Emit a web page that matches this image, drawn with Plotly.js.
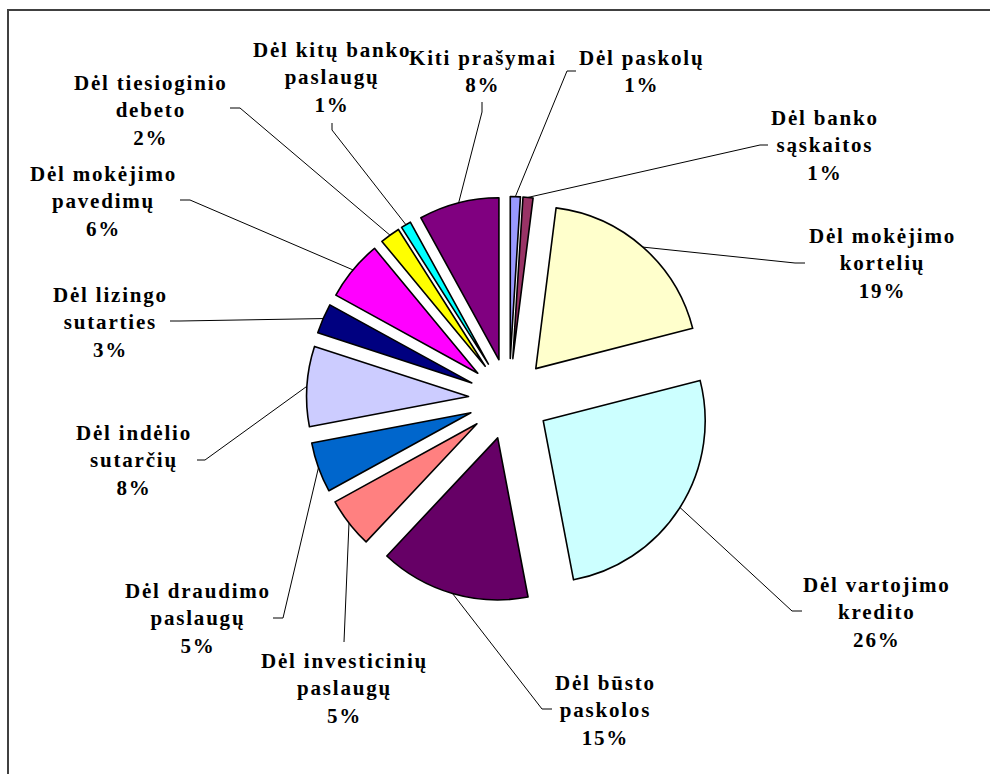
<!DOCTYPE html>
<html>
<head>
<meta charset="utf-8">
<script src="https://cdn.plot.ly/plotly-3.0.1.min.js"></script>
<style>
html, body { margin: 0; padding: 0; background: #ffffff; }
#chart { width: 990px; height: 774px; }
.annotation-text { letter-spacing: 1.8px; }
</style>
</head>
<body>
<div id="chart"></div>
<script>
// ---- data ----
const categories = [
  "Dėl paskolų",
  "Dėl banko sąskaitos",
  "Dėl mokėjimo kortelių",
  "Dėl vartojimo kredito",
  "Dėl būsto paskolos",
  "Dėl investicinių paslaugų",
  "Dėl draudimo paslaugų",
  "Dėl indėlio sutarčių",
  "Dėl lizingo sutarties",
  "Dėl mokėjimo pavedimų",
  "Dėl tiesioginio debeto",
  "Dėl kitų banko paslaugų",
  "Kiti prašymai"
];
const displayLabels = [
  "Dėl paskolų",
  "Dėl banko<br>sąskaitos",
  "Dėl mokėjimo<br>kortelių",
  "Dėl vartojimo<br>kredito",
  "Dėl būsto<br>paskolos",
  "Dėl investicinių<br>paslaugų",
  "Dėl draudimo<br>paslaugų",
  "Dėl indėlio<br>sutarčių",
  "Dėl lizingo<br>sutarties",
  "Dėl mokėjimo<br>pavedimų",
  "Dėl tiesioginio<br>debeto",
  "Dėl kitų banko<br>paslaugų",
  "Kiti prašymai"
];
const values = [1, 1, 19, 26, 15, 5, 5, 8, 3, 6, 2, 1, 8];
const colors = [
  "#9999FF", "#993366", "#FFFFCC", "#CCFFFF", "#660066", "#FF8080",
  "#0066CC", "#CCCCFF", "#000080", "#FF00FF", "#FFFF00", "#00FFFF", "#800080"
];

// ---- layout settings (pixels) ----
const W = 990, H = 774;
const CX = 509, CY = 399, R = 162, PULL = 0.25;
// label block centre [x, y], leader anchor [x, y], elbow [x, y]
const labelPlacement = [
  [641, 72,   576, 71,   567, 71],
  [825, 146,  768, 145,  760, 145],
  [882, 264,  805, 263,  795, 263],
  [877, 612,  802, 611,  792, 611],
  [605, 710,  552, 709,  542, 709],
  [344, 688,  344, 642,  344, 642],
  [198, 618,  273, 618,  283, 618],
  [134, 460,  197, 460,  205, 460],
  [110, 322,  170, 321,  180, 321],
  [103, 202,  180, 200,  190, 200],
  [151, 110,  230, 108,  240, 108],
  [332, 78,   332, 123,  332, 130],
  [483, 72,   482, 102,  482, 112]
];

const half = R * (1 + PULL);
const domain = {
  x: [(CX - half) / W, (CX + half) / W],
  y: [(H - CY - half) / H, (H - CY + half) / H]
};

const total = values.reduce((a, b) => a + b, 0);
const px2x = p => p / W;
const px2y = p => 1 - p / H;

const annotations = [];
const shapes = [];
let cum = 0;
values.forEach((v, i) => {
  const midFrac = (cum + v / 2) / total;
  cum += v;
  const ang = midFrac * 2 * Math.PI; // clockwise from 12 o'clock
  const sx = CX + half * Math.sin(ang);
  const sy = CY - half * Math.cos(ang);
  const lp = labelPlacement[i];
  const pct = Math.round(v / total * 100) + "%";
  annotations.push({
    x: px2x(lp[0]), y: px2y(lp[1]), xref: "paper", yref: "paper",
    xanchor: "center", yanchor: "middle", showarrow: false, align: "center",
    text: "<b>" + displayLabels[i] + "<br>" + pct + "</b>",
    font: { family: "Liberation Serif, Times New Roman, serif", size: 21, color: "#000000" }
  });
  shapes.push({
    type: "path", xref: "paper", yref: "paper",
    path: "M " + px2x(lp[2]) + " " + px2y(lp[3]) +
          " L " + px2x(lp[4]) + " " + px2y(lp[5]) +
          " L " + px2x(sx) + " " + px2y(sy),
    line: { color: "#000000", width: 1 }
  });
});

// outer chart border (left and top visible)
shapes.push({
  type: "rect", xref: "paper", yref: "paper",
  x0: px2x(8), x1: 1.2, y0: -0.2, y1: px2y(10),
  line: { color: "#404040", width: 2 }, fillcolor: "rgba(0,0,0,0)"
});

const trace = {
  type: "pie",
  labels: categories,
  values: values,
  sort: false,
  direction: "clockwise",
  rotation: 0,
  pull: PULL,
  marker: { colors: colors, line: { color: "#000000", width: 1.6 } },
  textinfo: "none",
  hoverinfo: "none",
  domain: domain
};

const layout = {
  width: W, height: H,
  margin: { l: 0, r: 0, t: 0, b: 0 },
  paper_bgcolor: "#ffffff",
  showlegend: false,
  annotations: annotations,
  shapes: shapes
};

Plotly.newPlot("chart", [trace], layout, { staticPlot: true, displayModeBar: false });
</script>
</body>
</html>
